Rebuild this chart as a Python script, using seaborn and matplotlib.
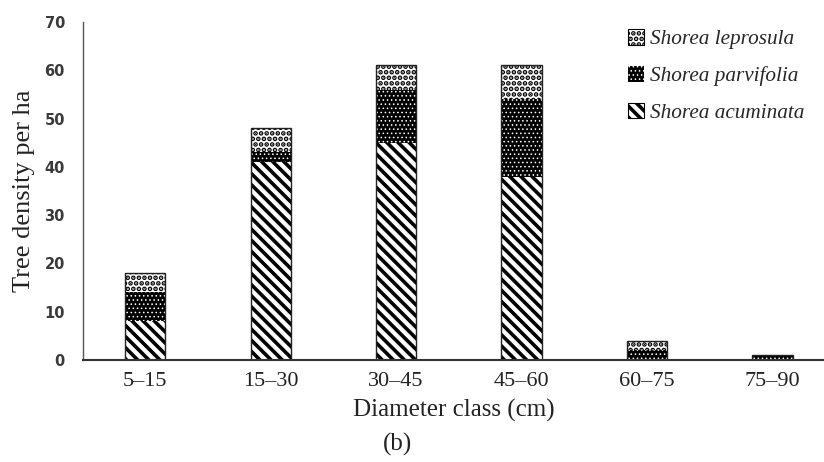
import matplotlib
matplotlib.use("Agg")
import matplotlib.pyplot as plt
from matplotlib.patches import Patch
import seaborn as sns
import pandas as pd

classes = ["5–15", "15–30", "30–45", "45–60", "60–75", "75–90"]
acuminata = [8, 41, 45, 38, 0, 0]
parvifolia = [6, 2, 11, 16, 2, 1]
leprosula = [4, 5, 5, 7, 2, 0]
species = ["Shorea leprosula", "Shorea parvifolia", "Shorea acuminata"]
y_ticks = [0, 10, 20, 30, 40, 50, 60, 70]

sns.set_style("white")
plt.rcParams["font.family"] = ["Liberation Serif", "DejaVu Serif"]

df = pd.DataFrame({"cls": classes, "acu": acuminata, "par": parvifolia, "lep": leprosula})
df["mid"] = df["acu"] + df["par"]
df["top"] = df["mid"] + df["lep"]

# стиль каждого слоя: заливка, цвет штриховки, штриховка, толщина штриховки
styles = {
    "top": dict(face="white", hcol="black", hatch="...", hlw=2.4),
    "mid": dict(face="black", hcol="white", hatch="....", hlw=0.6),
    "acu": dict(face="white", hcol="black", hatch="\\\\\\", hlw=2.6),
}
order = ["top", "mid", "acu"]

fig = plt.figure(figsize=(8.24, 4.62), dpi=100)
ax = fig.add_axes([0.1007, 0.2208, 0.8993, 0.7316])


def style_patch(p, st):
    p.set_facecolor(st["face"])
    p.set_edgecolor(st["hcol"])
    p.set_hatch(st["hatch"])
    p.set_linewidth(0)
    if hasattr(p, "set_hatch_linewidth"):
        p.set_hatch_linewidth(st["hlw"])


for col in order:
    st = styles[col]
    plt.rcParams["hatch.linewidth"] = st["hlw"]
    n0 = len(ax.patches)
    sns.barplot(data=df, x="cls", y=col, order=classes, color=st["face"],
                width=0.32, errorbar=None, ax=ax, saturation=1)
    for p in ax.patches[n0:]:
        style_patch(p, st)

# тонкая рамка вокруг столбиков
sns.barplot(data=df, x="cls", y="top", order=classes, fill=False, width=0.32,
            errorbar=None, ax=ax, edgecolor="#222222", linewidth=1.0)

ax.set_xlim(-0.495, 5.41)
ax.set_ylim(0, 70)
ax.set_yticks(y_ticks)
ax.set_yticklabels([str(t) for t in y_ticks], family="DejaVu Sans",
                   fontweight="bold", fontsize=10.5, color="#3a3a3a")
ax.tick_params(axis="y", length=0, pad=13)
ax.tick_params(axis="x", length=0, pad=9, labelsize=16)
for lab in ax.get_xticklabels():
    lab.set_color("#222222")

sns.despine(ax=ax, top=True, right=True)
ax.spines["left"].set_color("#555555")
ax.spines["left"].set_linewidth(1.0)
ax.spines["bottom"].set_color("#333333")
ax.spines["bottom"].set_linewidth(1.5)

ax.set_xlabel("Diameter class (cm)", fontsize=18, color="#222222", labelpad=5)
ax.set_ylabel("Tree density per ha", fontsize=19, color="#222222", labelpad=7)
fig.text(0.482, 0.025, "(b)", fontsize=18, color="#222222", ha="center")

handles = [Patch(facecolor="white", label=s) for s in species]
leg = ax.legend(handles, species, loc="upper right", bbox_to_anchor=(1.0, 1.035),
                frameon=False, handlelength=0.75, handleheight=0.75, handletextpad=0.3,
                labelspacing=0.78, prop={"style": "italic", "size": 15.3})
for h, col in zip(leg.legend_handles, order):
    style_patch(h, styles[col])
    if col != "mid":
        h.set_edgecolor("black")
        h.set_linewidth(0.8)

fig.savefig("out.png", dpi=100)
